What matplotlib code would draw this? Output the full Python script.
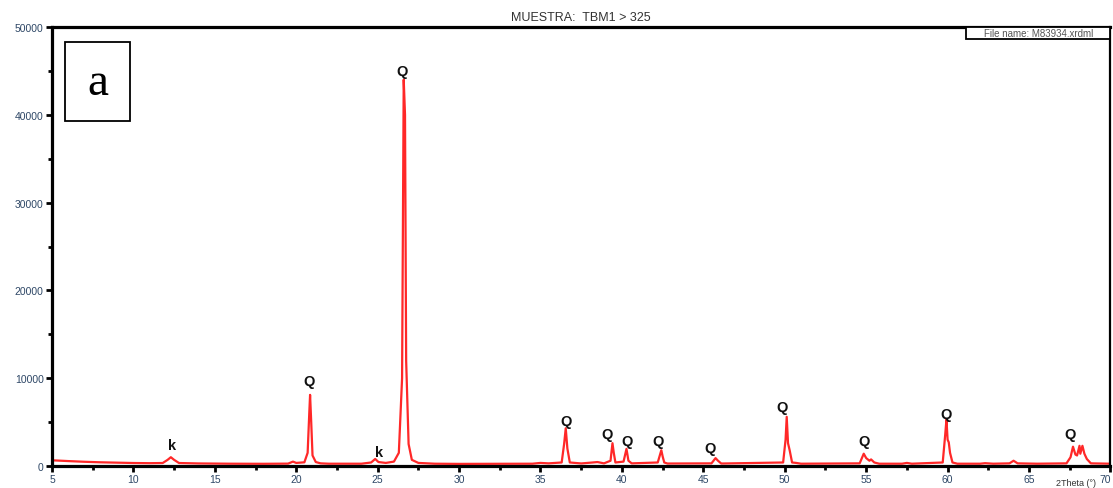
import matplotlib
matplotlib.use("Agg")
import matplotlib.pyplot as plt
from matplotlib.patches import Rectangle
from matplotlib.ticker import MultipleLocator

# Diffractogram trace: 2theta (deg) and intensity (counts)
two_theta = [
    5.0, 6.0, 7.0, 8.0, 9.0, 10.0, 11.0, 11.8, 12.1, 12.3, 12.5, 12.8, 14.0, 16.0,
    18.0, 19.5, 19.8, 20.0, 20.5, 20.7, 20.8, 20.85, 20.92, 21.0, 21.2, 21.5, 22.0,
    24.0, 24.6, 24.85, 25.05, 25.5, 26.0, 26.3, 26.5, 26.6, 26.68, 26.75, 26.9,
    27.1, 27.5, 28.5, 30.0, 34.5, 35.0, 35.5, 36.3, 36.45, 36.55, 36.65, 36.8,
    37.5, 38.2, 38.5, 38.9, 39.3, 39.42, 39.5, 39.6, 40.1, 40.28, 40.4, 40.6,
    42.2, 42.42, 42.5, 42.6, 42.8, 45.5, 45.75, 45.9, 46.1, 49.9, 50.05, 50.12,
    50.2, 50.3, 50.45, 50.7, 51.0, 54.6, 54.85, 55.0, 55.2, 55.3, 55.5, 55.8,
    57.2, 57.5, 57.8, 59.7, 59.85, 59.93, 60.0, 60.07, 60.15, 60.3, 60.6, 62.0,
    62.3, 62.8, 63.8, 64.05, 64.3, 65.5, 67.3, 67.55, 67.7, 67.85, 67.95, 68.1,
    68.15, 68.28, 68.4, 68.55, 68.8, 70.0,
]
intensity = [
    650, 560, 480, 420, 380, 340, 320, 340, 700, 1000, 700, 340, 290, 260,
    250, 270, 500, 350, 420, 1500, 6000, 8100, 5000, 1200, 450, 300, 260,
    260, 400, 800, 450, 350, 500, 1500, 10000, 44000, 40000, 12000, 2500,
    700, 350, 260, 240, 260, 350, 300, 400, 2500, 4300, 2000, 400,
    290, 400, 450, 300, 600, 2600, 1500, 400, 500, 1950, 600, 300,
    400, 1800, 1100, 400, 280, 300, 900, 600, 280, 400, 3000, 5600,
    2600, 1800, 400, 350, 260, 300, 1400, 900, 600, 750, 400, 260,
    260, 350, 260, 400, 3500, 5300, 3000, 2700, 1500, 400, 260, 260,
    320, 260, 300, 600, 300, 260, 300, 1000, 2200, 1300, 1200, 2300,
    1400, 2300, 1400, 800, 300, 260,
]

# Phase labels (k = kaolinite, Q = quartz)
label_text = ["k", "Q", "k", "Q", "Q", "Q", "Q", "Q", "Q", "Q", "Q", "Q", "Q"]
label_2theta = [12.36, 20.77, 25.06, 26.47, 36.6, 39.1, 40.3, 42.2, 45.4, 49.85, 54.9, 59.9, 67.5]
label_counts = [2390, 9680, 1600, 44990, 5130, 3640, 2850, 2850, 2050, 6720, 2850, 5920, 3640]

y_ticks = [0, 10000, 20000, 30000, 40000, 50000]
x_ticks = [5, 10, 15, 20, 25, 30, 35, 40, 45, 50, 55, 60, 65, 70]

tick_color = "#2e4766"
sans = ["Liberation Sans", "DejaVu Sans"]

fig = plt.figure(figsize=(11.13, 4.89), dpi=100)
ax = fig.add_axes([0.0467, 0.045, 0.951, 0.8977])

ax.plot(two_theta, intensity, color="#ff1010", lw=1.6, alpha=0.9)

ax.set_xlim(5, 70)
ax.set_ylim(0, 50000)
ax.set_xticks(x_ticks)
ax.set_yticks(y_ticks)
ax.set_xticklabels([str(v) for v in x_ticks])
ax.set_yticklabels([str(v) for v in y_ticks])
ax.xaxis.set_minor_locator(MultipleLocator(2.5))
ax.yaxis.set_minor_locator(MultipleLocator(5000))
ax.tick_params(axis="both", which="major", direction="out", width=2, length=4,
               labelsize=7.5, labelcolor=tick_color, pad=2)
ax.tick_params(axis="both", which="minor", direction="out", width=2, length=3)
for lab in ax.get_xticklabels() + ax.get_yticklabels():
    lab.set_family(sans)
ax.get_xticklabels()[-1].set_horizontalalignment("right")

for side in ["left", "bottom", "top"]:
    ax.spines[side].set_linewidth(2.3)
ax.spines["right"].set_linewidth(1.6)

for t, x, y in zip(label_text, label_2theta, label_counts):
    ax.text(x, y, t, ha="center", va="center", fontsize=10.5, fontweight="bold",
            family=sans, color="#111111")

ax.set_title("MUESTRA:  TBM1 > 325", fontsize=9, color="#333333",
             family=sans, pad=5)

# Axis caption in the bottom-right corner
fig.text(0.985, 0.003, "2Theta (°)", ha="right", va="bottom",
         fontsize=6.5, color="#333333", family=sans)

# File name box hanging under the top frame
fn_box = Rectangle((0.864, 0.972), 0.136, 0.028, transform=ax.transAxes,
                   facecolor="white", edgecolor="black", lw=1.3, zorder=5)
ax.add_patch(fn_box)
ax.text(0.932, 0.986, "File name: M83934.xrdml", transform=ax.transAxes,
        ha="center", va="center", fontsize=7, color="#555555",
        family=sans, zorder=6)

# Panel letter
panel_box = Rectangle((0.0123, 0.787), 0.0614, 0.178, transform=ax.transAxes,
                      facecolor="white", edgecolor="black", lw=1.3, zorder=5)
ax.add_patch(panel_box)
ax.text(0.043, 0.872, "a", transform=ax.transAxes, ha="center", va="center",
        fontsize=34, family=["Liberation Serif", "DejaVu Serif"], zorder=6)

fig.savefig("out.png", dpi=100)
